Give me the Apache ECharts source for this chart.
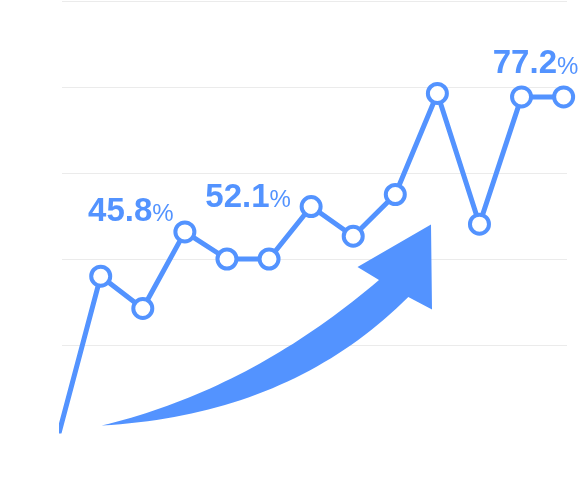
<!DOCTYPE html>
<html>
<head>
<meta charset="utf-8">
<script src="https://cdn.jsdelivr.net/npm/echarts@6/dist/echarts.min.js"></script>
<style>
html,body{margin:0;padding:0;background:#fff;}
#chart{width:581px;height:489px;}
</style>
</head>
<body>
<div id="chart"></div>
<script>
// ---- data ----
const xIndex = [0, 1, 2, 3, 4, 5, 6, 7, 8, 9, 10, 11, 12];
const values = [-0.8, 36.0, 28.5, 46.3, 40.0, 40.0, 52.2, 45.3, 55.0, 78.5, 48.1, 77.7, 77.7];
const labelIndex = [3, 6, 11];
const labelValues = ['45.8', '52.1', '77.2'];
const yTicks = [0, 20, 40, 60, 80, 100];

// ---- styles ----
const BLUE = '#5393FF';
const FONT = '"Liberation Sans", Arial, Helvetica, sans-serif';
const labelOffsets = [[-54, -4], [-63, 8], [14, -16]];

// decorative arrow outline (pixel geometry)
function quad(p0, c, p1, n) {
  const pts = [];
  for (let i = 0; i <= n; i++) {
    const t = i / n, a = (1 - t) * (1 - t), b = 2 * (1 - t) * t, d = t * t;
    pts.push([a * p0[0] + b * c[0] + d * p1[0], a * p0[1] + b * c[1] + d * p1[1]]);
  }
  return pts;
}
const tail = [101.7, 425.5];
const arrowPts = []
  .concat(quad(tail, [250, 390], [379, 280], 40))
  .concat([[357.5, 267], [431, 224.5], [432, 309.5]])
  .concat(quad([408.3, 297], [290, 415], tail, 40));

const seriesData = values.map(function (v, i) {
  const item = { value: [xIndex[i], v] };
  const k = labelIndex.indexOf(i);
  if (k >= 0) {
    item.label = {
      show: true,
      position: 'inside',
      align: 'center',
      verticalAlign: 'bottom',
      offset: labelOffsets[k],
      formatter: '{n|' + labelValues[k] + '}{p|%}',
      rich: {
        n: { fontSize: 33, fontWeight: 'bold', color: BLUE, fontFamily: FONT, lineHeight: 32, verticalAlign: 'bottom' },
        p: { fontSize: 24, fontWeight: 'normal', color: BLUE, fontFamily: FONT, lineHeight: 32, verticalAlign: 'bottom', padding: [0, 0, 2, 0] }
      }
    };
  }
  return item;
});

const chart = echarts.init(document.getElementById('chart'), null, { renderer: 'canvas' });
chart.setOption({
  animation: false,
  backgroundColor: '#ffffff',
  grid: { left: 62, right: 14, top: 1, bottom: 58, containLabel: false },
  xAxis: {
    type: 'value',
    min: 0.08,
    max: 12.08,
    show: false
  },
  yAxis: {
    type: 'value',
    min: yTicks[0],
    max: yTicks[yTicks.length - 1],
    interval: yTicks[1] - yTicks[0],
    axisLine: { show: false },
    axisTick: { show: false },
    axisLabel: { show: false },
    splitLine: { show: true, showMinLine: false, lineStyle: { color: '#ebebeb', width: 1 } }
  },
  graphic: [{
    type: 'polygon',
    z: 1,
    shape: { points: arrowPts },
    style: { fill: BLUE }
  }],
  series: [{
    type: 'line',
    data: seriesData,
    clip: true,
    z: 3,
    symbol: 'circle',
    symbolSize: 19,
    showAllSymbol: true,
    lineStyle: { color: BLUE, width: 5 },
    itemStyle: { color: '#ffffff', borderColor: BLUE, borderWidth: 4 },
    label: { show: false },
    emphasis: { disabled: true }
  }]
});
</script>
</body>
</html>
